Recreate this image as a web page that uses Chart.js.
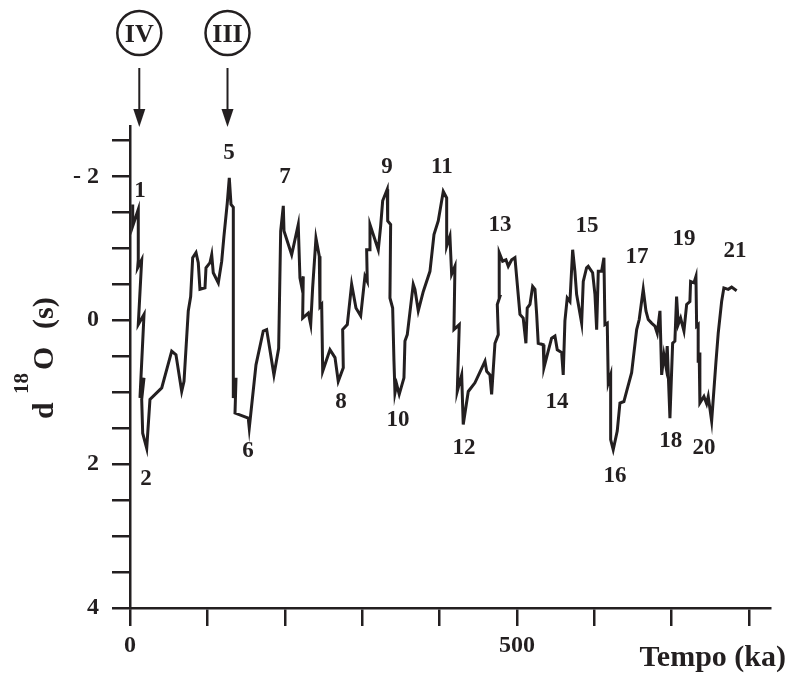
<!DOCTYPE html>
<html>
<head>
<meta charset="utf-8">
<script src="https://cdn.jsdelivr.net/npm/chart.js@4.4.1/dist/chart.umd.min.js"></script>
<style>
  body { margin: 0; background: #fff; }
  #wrap { width: 787px; height: 673px; position: relative; }
</style>
</head>
<body>
<div id="wrap"><canvas id="chart"></canvas></div>
<script>
// --- data (age in ka, d18O per mil) ---
const ageKa = [
  3.5,3.5,10.7,10.7,9.9,15.1,10.7,18.1,12.9,18.1,15.1,16.4,21.6,25.8,41.0,53.9,59.4,66.8,69.8,75.3,
  78.4,81.0,85.3,88.2,90.4,96.9,98.2,103.4,105.6,107.6,114.1,118.5,121.4,125.7,128.3,130.5,133.5,133.5,137.0,135.7,
  152.8,154.1,162.8,172.2,176.6,186.0,192.1,194.7,198.1,199.0,
  208.9,217.4,219.6,221.8,223.9,223.1,230.4,233.5,236.0,240.3,244.6,245.5,247.7,249.0,258.4,264.9,269.1,275.6,274.8,280.8,
  286.4,292.0,298.1,303.6,306.6,305.8,309.2,310.1,320.8,323.9,326.5,332.4,333.0,336.8,335.9,339.4,341.1,342.4,344.6,347.9,
  354.0,355.3,358.3,366.0,368.2,372.5,379.0,387.6,
  392.8,398.3,404.8,409.2,409.2,413.4,415.6,419.9,418.6,425.5,422.9,428.6,430.6,437.1,445.7,458.7,460.9,465.1,467.3,471.6,
  475.9,474.6,478.0,477.1,481.5,485.8,488.8,493.2,497.4,503.9,508.1,511.6,513.3,516.8,520.3,523.3,525.5,527.5,534.0,534.9,
  540.4,544.8,549.1,552.1,557.8,559.8,562.0,565.0,568.5,572.0,574.9,577.1,583.6,585.7,590.0,
  592.1,597.8,600.8,603.0,605.1,609.4,612.4,613.7,616.7,618.0,621.1,621.1,624.4,629.6,633.1,638.2,641.7,648.2,654.7,658.0,
  663.2,666.7,669.7,674.0,678.3,681.3,684.8,687.0,689.9,692.5,694.2,697.7,701.2,704.1,706.3,708.4,711.5,715.8,719.3,723.5,
  724.4,728.7,731.3,732.2,734.2,734.2,735.5,736.4,741.6,745.1,747.2,751.6,757.1,760.1,764.5,767.4,773.0,777.4,783.9
];
const d18O = [
  -1.61,-1.31,-1.54,-0.84,-0.73,-0.84,0.06,-0.08,1.08,0.80,1.10,1.57,1.78,1.10,0.94,0.43,0.48,0.99,0.85,-0.13,
  -0.33,-0.87,-0.94,-0.80,-0.43,-0.45,-0.73,-0.80,-0.91,-0.66,-0.52,-0.82,-1.17,-1.63,-1.98,-1.61,-1.57,1.08,0.80,1.29,
  1.36,1.50,0.62,0.15,0.13,0.76,0.39,-1.24,-1.59,-1.24,
  -0.91,-1.33,-0.59,-0.47,-0.61,-0.03,-0.10,0.06,-0.45,-1.14,-0.89,-0.19,-0.22,0.71,0.41,0.52,0.85,0.66,0.13,0.06,
  -0.50,-0.17,-0.06,-0.61,-0.54,-0.98,-0.98,-1.33,-0.98,-1.31,-1.66,-1.82,-1.38,-1.33,-0.31,-0.17,0.57,1.01,0.89,1.03,
  0.80,0.29,0.20,-0.50,-0.43,-0.13,-0.40,-0.68,
  -1.19,-1.38,-1.79,-1.70,-1.03,-1.17,-0.64,-0.75,0.13,0.06,0.99,0.76,1.45,0.99,0.87,0.57,0.71,0.76,1.03,0.32,
  0.20,-0.22,-0.33,-0.94,-0.82,-0.84,-0.75,-0.84,-0.87,-0.08,-0.03,0.32,-0.17,-0.22,-0.47,-0.43,-0.08,0.32,0.34,0.66,
  0.43,0.25,0.22,0.41,0.45,0.76,0.01,-0.31,-0.26,-0.98,-0.68,-0.36,0.04,-0.54,-0.73,
  -0.75,-0.66,-0.36,0.13,-0.68,-0.68,-0.87,0.06,0.04,0.87,0.76,1.66,1.80,1.54,1.15,1.13,0.99,0.73,0.13,-0.01,
  -0.43,-0.13,-0.01,0.04,0.08,0.18,-0.13,0.76,0.48,0.64,0.36,1.36,0.32,0.29,-0.33,0.06,-0.03,0.15,-0.22,-0.26,
  -0.54,-0.52,-0.61,0.08,0.06,0.59,0.45,1.15,1.06,1.16,1.06,1.40,0.59,0.18,-0.26,-0.45,-0.43,-0.46,-0.41
];

// isotope stage numbers and where they sit
const stageLabels = ['1','2','5','6','7','8','9','10','11','12','13','14','15','16','17','18','19','20','21'];
const stageAge = [12.9,20.7,127.9,152.5,200.3,272.6,332.0,346.3,403.1,431.5,478.0,551.7,590.4,626.6,655.0,698.9,715.8,741.6,781.7];
const stageVal = [-1.79,2.21,-2.32,1.82,-1.99,1.14,-2.13,1.39,-2.13,1.77,-1.32,1.14,-1.31,2.17,-0.88,1.68,-1.13,1.78,-0.96];

// terminations marked with arrows
const termLabels = ['IV','III'];
const termAge = [12, 126];

const xTickValues = [0,100,200,300,400,500,600,700,800];
const xTickLabels = ['0','','','','','500','','',''];
const yTickValues = [-2.5,-2,-1.5,-1,-0.5,0,0.5,1,1.5,2,2.5,3,3.5,4];
const yTickLabels = ['','- 2','','','','0','','','','2','','','','4'];

const INK = '#231f20';
const SERIF = '"Liberation Serif", "Times New Roman", serif';

const points = ageKa.map((a, i) => ({ x: a, y: d18O[i] }));

const extras = {
  id: 'extras',
  afterDraw(chart) {
    const ctx = chart.ctx;
    const xs = chart.scales.x, ys = chart.scales.y;
    ctx.save();
    ctx.fillStyle = INK;
    ctx.strokeStyle = INK;

    // stage numbers
    ctx.font = 'bold 23px ' + SERIF;
    ctx.textAlign = 'center';
    ctx.textBaseline = 'middle';
    stageLabels.forEach((s, i) => {
      ctx.fillText(s, xs.getPixelForValue(stageAge[i]), ys.getPixelForValue(stageVal[i]));
    });

    // circled terminations + arrows
    termLabels.forEach((t, i) => {
      const px = xs.getPixelForValue(termAge[i]);
      ctx.lineWidth = 2.5;
      ctx.beginPath();
      ctx.arc(px, 33, 22, 0, Math.PI * 2);
      ctx.stroke();
      ctx.font = 'bold 26px ' + SERIF;
      ctx.fillText(t, px, 35);
      ctx.lineWidth = 2;
      ctx.beginPath();
      ctx.moveTo(px, 68);
      ctx.lineTo(px, 112);
      ctx.stroke();
      ctx.beginPath();
      ctx.moveTo(px - 6, 109);
      ctx.lineTo(px + 6, 109);
      ctx.lineTo(px, 127);
      ctx.closePath();
      ctx.fill();
    });

    // x title
    ctx.font = 'bold 30px ' + SERIF;
    ctx.textAlign = 'right';
    ctx.textBaseline = 'alphabetic';
    ctx.fillText('Tempo (ka)', 786, 666);

    // y title, rotated: d 18O (s)
    ctx.translate(53, 0);
    ctx.rotate(-Math.PI / 2);
    ctx.textAlign = 'left';
    ctx.font = 'bold 30px ' + SERIF;
    ctx.fillText('d', -419, 0);
    ctx.font = 'bold 21px ' + SERIF;
    ctx.fillText('18', -394, -25);
    ctx.font = 'bold 30px ' + SERIF;
    ctx.fillText('O', -370, 0);
    ctx.fillText('(s)', -329, 0);
    ctx.restore();
  }
};

Chart.defaults.font.family = SERIF;
Chart.defaults.font.weight = 'bold';
Chart.defaults.color = INK;

new Chart(document.getElementById('chart'), {
  type: 'scatter',
  data: {
    datasets: [{
      data: points,
      showLine: true,
      borderColor: INK,
      borderWidth: 3,
      borderJoinStyle: 'miter',
      pointRadius: 0,
      tension: 0
    }]
  },
  options: {
    responsive: true,
    maintainAspectRatio: false,
    animation: false,
    layout: { padding: { top: 126, right: 17, left: 0, bottom: 0 } },
    plugins: { legend: { display: false }, tooltip: { enabled: false } },
    scales: {
      x: {
        type: 'linear',
        min: 0,
        max: 827,
        afterBuildTicks: s => { s.ticks = xTickValues.map(v => ({ value: v })); },
        afterFit: s => { s.height = 65; },
        ticks: {
          autoSkip: false,
          maxRotation: 0,
          padding: 5,
          font: { size: 24, weight: 'bold' },
          callback: v => xTickLabels[xTickValues.indexOf(v)] ?? ''
        },
        grid: { drawOnChartArea: false, drawTicks: true, tickLength: 18, color: INK, lineWidth: 2.5 },
        border: { display: true, color: INK, width: 2.5 }
      },
      y: {
        type: 'linear',
        reverse: true,
        min: -2.7,
        max: 4,
        afterBuildTicks: s => { s.ticks = yTickValues.map(v => ({ value: v })); },
        afterFit: s => { s.width = 130; },
        ticks: {
          autoSkip: false,
          padding: 13,
          font: { size: 24, weight: 'bold' },
          callback: v => yTickLabels[yTickValues.indexOf(v)] ?? ''
        },
        grid: { drawOnChartArea: false, drawTicks: true, tickLength: 18, color: INK, lineWidth: 2.5 },
        border: { display: true, color: INK, width: 2.5 }
      }
    }
  },
  plugins: [extras]
});
</script>
</body>
</html>
